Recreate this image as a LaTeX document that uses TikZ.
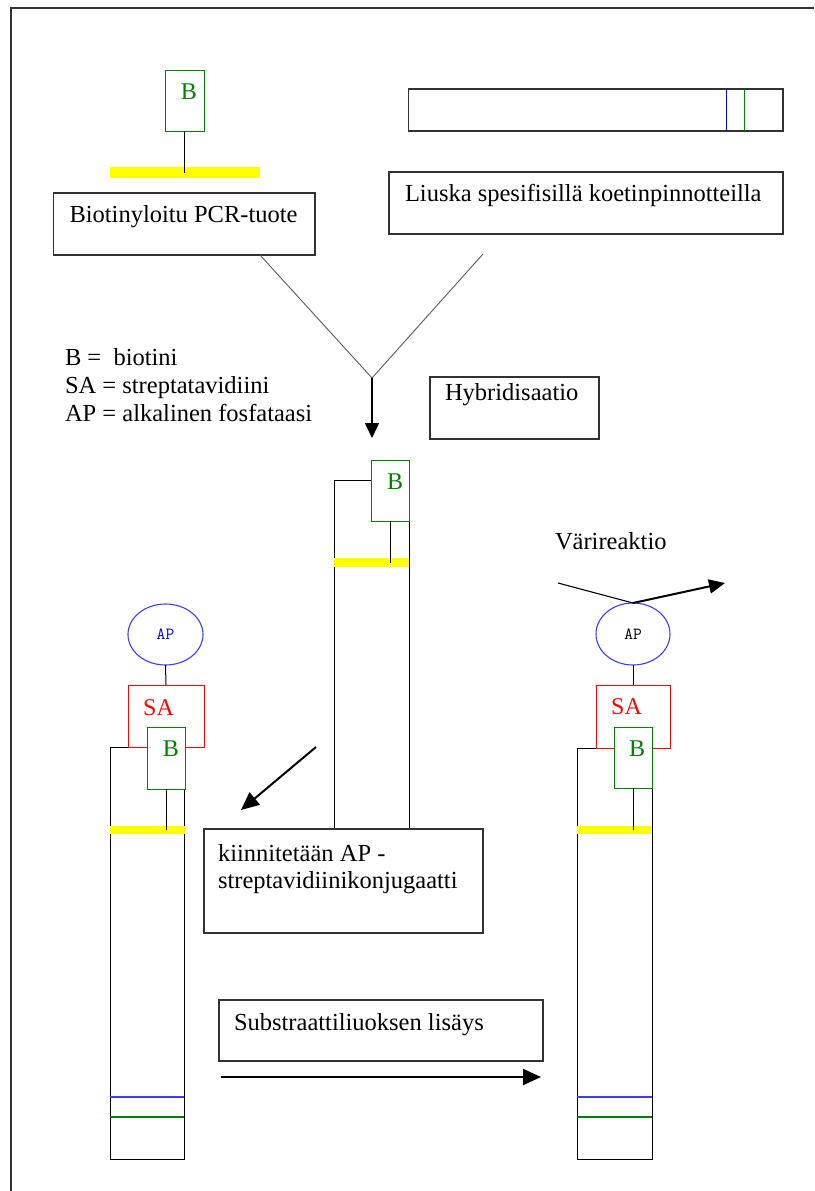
\documentclass[tikz,border=0pt]{standalone}
\usepackage{fontspec}
\setmainfont{Liberation Serif}
\usetikzlibrary{arrows.meta,calc,shapes.geometric}
\definecolor{gr}{RGB}{0,128,0}
\definecolor{apblue}{RGB}{60,60,255}
\definecolor{boxc}{RGB}{50,50,50}
\definecolor{vgray}{RGB}{90,90,90}
\definecolor{yel}{RGB}{255,255,0}
\definecolor{bandblue}{RGB}{60,60,255}
\begin{document}
\begin{tikzpicture}[x=1pt,y=-1pt,
  frame/.style={draw=boxc,line width=1.2pt},
  box/.style={draw=boxc,line width=1.1pt,fill=white,inner sep=0pt,outer sep=0pt,anchor=north west},
  txt/.style={font=\fontsize{24.5}{27}\selectfont,inner sep=0pt,outer sep=0pt,anchor=base west,align=left},
  bbox/.style={draw=gr,line width=1pt,fill=white,minimum width=38pt,minimum height=61pt,inner sep=0pt,outer sep=0pt,anchor=north west},
  btxt/.style={text=gr,font=\fontsize{24}{24}\selectfont,inner sep=0pt},
  sabox/.style={draw=red,line width=1pt,fill=white,minimum width=76pt,minimum height=62pt,inner sep=0pt,outer sep=0pt,anchor=north west},
  satxt/.style={text=red,font=\fontsize{24}{24}\selectfont,inner sep=0pt,anchor=base west},
  apell/.style={ellipse,draw=apblue,line width=1.1pt,minimum width=75pt,minimum height=61pt,inner sep=0pt,outer sep=0pt},
  aptxt/.style={font=\ttfamily\fontsize{17}{17}\selectfont},
  stripbox/.style={draw=black,line width=1pt,inner sep=0pt,outer sep=0pt,anchor=north west},
  yelbar/.style={fill=yel,draw=none,inner sep=0pt,outer sep=0pt,anchor=north west},
  stem/.style={draw=black,line width=1pt},
  vline/.style={draw=vgray,line width=0.9pt},
  bigarrow/.style={draw=black,line width=2pt,-{Triangle[length=18pt,width=16pt]}},
]
\useasboundingbox (0,0) rectangle (814,1191);
% frame
\coordinate (fTL) at (11,8);
\coordinate (fTR) at (814,8);
\coordinate (fBL) at (11,1191);
\draw[frame] (fTR) -- (fTL) -- (fBL);

% ---- top left: biotinylated PCR product
\node[yelbar,minimum width=150pt,minimum height=11pt] (ytop) at (110,167) {};
\node[bbox,minimum width=39pt] (btop) at (165,70) {};
\node[btxt] (btopt) at ([shift={(24,22)}]btop.north west) {B};
\draw[stem] (btop.south) -- (btop.south |- ytop.center);
\node[box,minimum width=261.5pt,minimum height=62pt] (pcr) at (53.5,193) {};
\node[txt] (pcrt) at ([shift={(16,29)}]pcr.north west) {Biotinyloitu PCR-tuote};

% ---- top right: strip
\node[box,minimum width=374.5pt,minimum height=42pt] (tstrip) at (408.5,89) {};
\draw[draw=blue,line width=1pt] ([xshift=317.5pt]tstrip.north west) -- ([xshift=317.5pt]tstrip.south west);
\draw[draw=gr,line width=1pt] ([xshift=336pt]tstrip.north west) -- ([xshift=336pt]tstrip.south west);
\node[box,minimum width=394pt,minimum height=62pt] (liuska) at (389,172) {};
\node[txt] (liuskat) at ([shift={(16,29)}]liuska.north west) {Liuska spesifisillä koetinpinnotteilla};

% ---- V lines and hybridisation arrow
\coordinate (vL) at (260,255);
\coordinate (vR) at (483,254);
\coordinate (apex) at (372,378);
\coordinate (hybtip) at (372,438);
\draw[vline] (vL) -- (apex) -- (vR);
\draw[draw=black,line width=1.5pt,-{Triangle[length=15pt,width=14pt]}] (apex) -- (hybtip);
\node[box,minimum width=169pt,minimum height=62pt] (hyb) at (430,377) {};
\node[txt] (hybt) at ([shift={(15,23)}]hyb.north west) {Hybridisaatio};

% ---- legend
\node[txt] (leg1) at (65,365) {B =~~biotini};
\node[txt] (leg2) at (65,393) {SA = streptatavidiini};
\node[txt] (leg3) at (65,421) {AP = alkalinen fosfataasi};

% ---- middle strip after hybridisation
\node[stripbox,minimum width=75pt,minimum height=349pt] (mstrip) at (334,480) {};
\node[yelbar,minimum width=75pt,minimum height=9pt] (ymid) at (334,558) {};
\node[bbox] (bmid) at (371,460) {};
\node[btxt] (bmidt) at ([shift={(24,22)}]bmid.north west) {B};
\draw[stem] (bmid.south) -- (bmid.south |- ymid.center);
\node[box,minimum width=279pt,minimum height=104pt] (kiin) at (204,829) {};
\node[txt] (kiint) at ([shift={(14,59)}]kiin.north west) {kiinnitetään AP -\\streptavidiinikonjugaatti};

% diagonal arrow
\coordinate (dA) at (316,747);
\coordinate (dB) at (241,810);
\draw[bigarrow] (dA) -- (dB);

% ---- left strip with conjugate
\node[stripbox,minimum width=74pt,minimum height=412pt] (lstrip) at (110,747) {};
\node[yelbar,minimum width=75pt,minimum height=8pt] (lyel) at (110,826) {};
\draw[draw=bandblue,line width=1.8pt] ([yshift=-350pt]lstrip.north west) -- ([yshift=-350pt]lstrip.north east);
\draw[draw=gr,line width=1.3pt] ([yshift=-370pt]lstrip.north west) -- ([yshift=-370pt]lstrip.north east);
\node[sabox] (lsa) at (128,685) {};
\node[satxt] (lsat) at ([shift={(15,30)}]lsa.north west) {SA};
\node[bbox,minimum height=62pt] (lb) at (147,727) {};
\node[btxt] (lbt) at ([shift={(24,22)}]lb.north west) {B};
\draw[stem] (lb.south) -- (lb.south |- lyel.center);
\node[apell] (lap) at (165.5,634.5) {};
\node[aptxt,text=blue] (lapt) at (lap.center) {AP};
\draw[stem] (lap.south) -- (lsa.north);

% ---- right strip after colour reaction
\node[stripbox,minimum width=75pt,minimum height=411pt] (rstrip) at (577,748) {};
\node[yelbar,minimum width=75pt,minimum height=8pt] (ryel) at (577,826) {};
\draw[draw=bandblue,line width=1.8pt] ([yshift=-349pt]rstrip.north west) -- ([yshift=-349pt]rstrip.north east);
\draw[draw=gr,line width=1.3pt] ([yshift=-369pt]rstrip.north west) -- ([yshift=-369pt]rstrip.north east);
\node[sabox,minimum width=74pt,minimum height=63pt] (rsa) at (596,685) {};
\node[satxt] (rsat) at ([shift={(15,29)}]rsa.north west) {SA};
\node[bbox,minimum height=61pt] (rb) at (614,727) {};
\node[btxt] (rbt) at ([shift={(23,22)}]rb.north west) {B};
\draw[stem] (rb.south) -- (rb.south |- ryel.center);
\node[apell,minimum width=74pt,minimum height=62pt] (rap) at (633,634) {};
\node[aptxt,text=black] (rapt) at (rap.center) {AP};
\draw[stem] (rap.south) -- (rsa.north);

% colour reaction
\node[txt] (vari) at (555,549) {Värireaktio};
\coordinate (vrA) at (558,583);
\coordinate (vrB) at (725,583);
\draw[draw=black,line width=1.1pt] (vrA) -- (rap.north);
\draw[draw=black,line width=2pt,-{Triangle[length=16pt,width=14pt]}] (rap.north) -- (vrB);

% ---- substrate
\node[box,minimum width=324pt,minimum height=61pt] (subs) at (219,1000) {};
\node[txt] (subst) at ([shift={(15,30)}]subs.north west) {Substraattiliuoksen lisäys};
\coordinate (sA) at (221,1077);
\coordinate (sB) at (541,1077);
\draw[draw=black,line width=2.2pt,-{Triangle[length=18pt,width=16pt]}] (sA) -- (sB);
\end{tikzpicture}
\end{document}
